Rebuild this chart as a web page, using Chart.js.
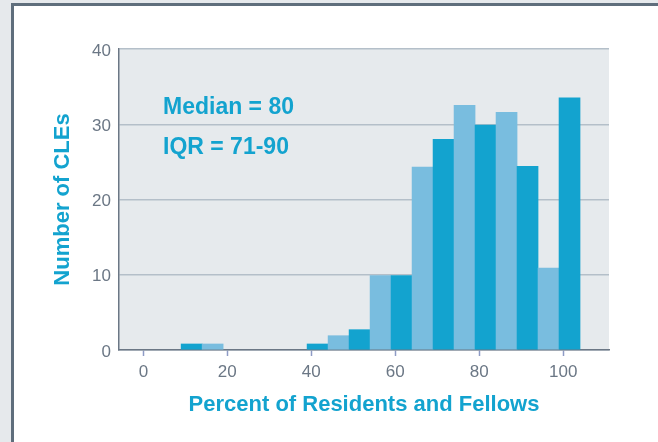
<!DOCTYPE html>
<html>
<head>
<meta charset="utf-8">
<script src="https://cdn.jsdelivr.net/npm/chart.js@4/dist/chart.umd.min.js"></script>
<style>
  html, body { margin: 0; padding: 0; background: #e6e9ec; }
  #wrap { position: relative; width: 658px; height: 442px; overflow: hidden; }
  #panel {
    position: absolute; left: 11px; top: 3px; width: 660px; height: 460px;
    background: #ffffff;
    border-left: 3px solid #5f6e7c;
    border-top: 3px solid #5f6e7c;
  }
  #myChart { position: absolute; left: 0; top: 0; }
</style>
</head>
<body>
<div id="wrap">
  <div id="panel"></div>
  <canvas id="myChart" width="658" height="442"></canvas>
</div>
<script>
// histogram bins (bin centres, % of residents and fellows)
const binCentres = [11.5, 16.5, 41.5, 46.5, 51.5, 56.5, 61.5, 66.5, 71.5, 76.5, 81.5, 86.5, 91.5, 96.5, 101.5];
const cleCounts = [0.8, 0.8, 0.8, 1.9, 2.7, 9.9, 9.9, 24.3, 28.0, 32.5, 29.9, 31.6, 24.4, 10.9, 33.5];
const xTickValues = [0, 20, 40, 60, 80, 100];
const yTickValues = [0, 10, 20, 30, 40];
const notes = ['Median = 80', 'IQR = 71-90'];

const darkBlue = '#13a3cf';
const lightBlue = '#79bddf';
const textGray = '#6b7785';

// alternate shades by bin position
const barColours = binCentres.map(c => {
  const idx = Math.round((c - 11.5) / 5);
  return idx % 2 === 0 ? darkBlue : lightBlue;
});

const plotBg = {
  id: 'plotBg',
  beforeDraw(chart) {
    const { ctx, chartArea } = chart;
    ctx.save();
    ctx.fillStyle = '#e6eaed';
    ctx.fillRect(chartArea.left, chartArea.top, chartArea.right - chartArea.left, chartArea.bottom - chartArea.top);
    ctx.restore();
  }
};

const noteText = {
  id: 'noteText',
  afterDraw(chart) {
    const { ctx, chartArea } = chart;
    ctx.save();
    ctx.fillStyle = darkBlue;
    ctx.font = 'bold 23px "Liberation Sans", Arial, sans-serif';
    ctx.textAlign = 'left';
    ctx.textBaseline = 'alphabetic';
    ctx.fillText(notes[0], chartArea.left + 44, chartArea.top + 65);
    ctx.fillText(notes[1], chartArea.left + 44, chartArea.top + 105);
    ctx.restore();
  }
};

const ctx = document.getElementById('myChart').getContext('2d');

const cleChart = new Chart(ctx, {
  type: 'bar',
  data: {
    datasets: [{
      label: 'Number of CLEs',
      data: binCentres.map((c, i) => ({ x: c, y: cleCounts[i] })),
      backgroundColor: barColours,
      borderWidth: 0,
      barPercentage: 1,
      categoryPercentage: 1
    }]
  },
  options: {
    responsive: false,
    animation: false,
    layout: { padding: { top: 49, right: 49, left: 0, bottom: 0 } },
    plugins: {
      legend: { display: false },
      tooltip: { enabled: false }
    },
    scales: {
      x: {
        type: 'linear',
        offset: false,
        min: -5.8,
        max: 110.9,
        afterBuildTicks: scale => { scale.ticks = xTickValues.map(v => ({ value: v })); },
        afterFit: scale => { scale.height = 92; },
        grid: {
          offset: false,
          drawOnChartArea: false,
          drawTicks: true,
          tickLength: 6,
          tickColor: '#8e9bc5',
          tickWidth: 1.5
        },
        border: { display: true, color: '#6b7785', width: 1.5 },
        ticks: {
          color: textGray,
          padding: 6,
          font: { family: '"Liberation Sans", Arial, sans-serif', size: 17 }
        },
        title: {
          display: true,
          text: 'Percent of Residents and Fellows',
          color: darkBlue,
          padding: { top: 0, bottom: 24 },
          font: { family: '"Liberation Sans", Arial, sans-serif', size: 22, weight: 'bold' }
        }
      },
      y: {
        min: 0,
        max: 40,
        afterBuildTicks: scale => { scale.ticks = yTickValues.map(v => ({ value: v })); },
        afterFit: scale => { scale.width = 119; },
        grid: {
          color: '#b4bfc9',
          lineWidth: 1.5,
          drawTicks: false
        },
        border: { display: true, color: '#6b7785', width: 1.5 },
        ticks: {
          color: textGray,
          padding: 8,
          labelOffset: 2,
          font: { family: '"Liberation Sans", Arial, sans-serif', size: 17 }
        },
        title: {
          display: true,
          text: 'Number of CLEs',
          color: darkBlue,
          padding: { top: 50, bottom: 0 },
          font: { family: '"Liberation Sans", Arial, sans-serif', size: 22, weight: 'bold' }
        }
      }
    }
  },
  plugins: [plotBg, noteText]
});
</script>
</body>
</html>
